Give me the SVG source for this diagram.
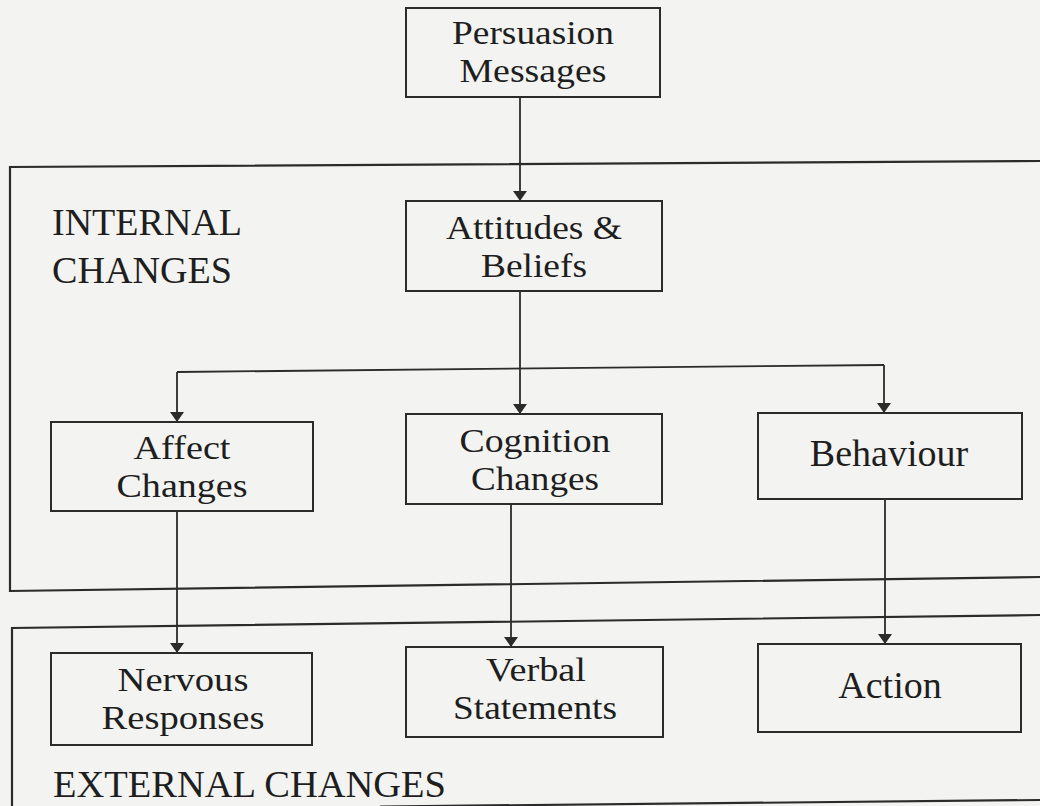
<svg xmlns="http://www.w3.org/2000/svg" width="1040" height="806" viewBox="0 0 1040 806">
  <defs>
    <marker id="arrow" viewBox="0 0 10 14" refX="10" refY="7" markerWidth="10" markerHeight="14" markerUnits="userSpaceOnUse" orient="auto">
      <path d="M0,0 L10,7 L0,14 Z" fill="#2b2b2b"/>
    </marker>
    <style>
      .box { fill: none; stroke: #2b2b2b; stroke-width: 2; }
      .frame { fill: none; stroke: #2b2b2b; stroke-width: 2.2; }
      .link { fill: none; stroke: #2b2b2b; stroke-width: 1.8; }
      .arrow { marker-end: url(#arrow); }
      text { font-family: "Liberation Serif", "Times New Roman", serif; font-size: 38px; fill: #1e1e1e; }
      .c { text-anchor: middle; }
      .two { font-size: 34px; }
    </style>
  </defs>

  <rect width="1040" height="806" fill="#f3f3f1"/>

  <!-- section frames -->
  <g id="internal-frame">
    <path class="frame" d="M1040,161 L10,167 L10,591 L1040,577"/>
    <text x="52" y="235" textLength="190" lengthAdjust="spacingAndGlyphs">INTERNAL</text>
    <text x="52" y="283" textLength="180" lengthAdjust="spacingAndGlyphs">CHANGES</text>
  </g>
  <g id="external-frame">
    <path class="frame" d="M1040,615 L12,628 L12,810"/>
    <path class="frame" d="M380,806.5 L1040,800"/>
    <text x="53" y="797" font-size="36" textLength="393" lengthAdjust="spacingAndGlyphs">EXTERNAL CHANGES</text>
  </g>

  <!-- connectors -->
  <g id="connectors">
    <path class="link arrow" d="M520,96 L520,201"/>
    <path class="link arrow" d="M520,291 L520,414"/>
    <path class="link" d="M177,372 L884,365"/>
    <path class="link arrow" d="M177,372 L177,422"/>
    <path class="link arrow" d="M884,365 L884,413"/>
    <path class="link arrow" d="M177,511 L177,653"/>
    <path class="link arrow" d="M511,504 L511,647"/>
    <path class="link arrow" d="M885,499 L885,644"/>
  </g>

  <!-- nodes -->
  <g id="persuasion-messages">
    <rect class="box" x="406" y="8" width="254" height="89"/>
    <text class="c two" x="533" y="43.5" textLength="162" lengthAdjust="spacingAndGlyphs">Persuasion</text>
    <text class="c two" x="533" y="81.5" textLength="147" lengthAdjust="spacingAndGlyphs">Messages</text>
  </g>
  <g id="attitudes-beliefs">
    <rect class="box" x="406" y="201" width="256" height="90"/>
    <text class="c two" x="534" y="238.5" textLength="176" lengthAdjust="spacingAndGlyphs">Attitudes &amp;</text>
    <text class="c two" x="534" y="276.5" textLength="106" lengthAdjust="spacingAndGlyphs">Beliefs</text>
  </g>
  <g id="affect-changes">
    <rect class="box" x="51" y="422" width="262" height="89"/>
    <text class="c two" x="182" y="458.5" textLength="97" lengthAdjust="spacingAndGlyphs">Affect</text>
    <text class="c two" x="182" y="496.5" textLength="131" lengthAdjust="spacingAndGlyphs">Changes</text>
  </g>
  <g id="cognition-changes">
    <rect class="box" x="406" y="414" width="256" height="90"/>
    <text class="c two" x="535" y="451.5" textLength="151" lengthAdjust="spacingAndGlyphs">Cognition</text>
    <text class="c two" x="535" y="489.5" textLength="128" lengthAdjust="spacingAndGlyphs">Changes</text>
  </g>
  <g id="behaviour">
    <rect class="box" x="758" y="413" width="264" height="86"/>
    <text class="c" x="889" y="466">Behaviour</text>
  </g>
  <g id="nervous-responses">
    <rect class="box" x="51" y="653" width="261" height="92"/>
    <text class="c two" x="183" y="690.5" textLength="131" lengthAdjust="spacingAndGlyphs">Nervous</text>
    <text class="c two" x="183" y="728.5" textLength="163" lengthAdjust="spacingAndGlyphs">Responses</text>
  </g>
  <g id="verbal-statements">
    <rect class="box" x="406" y="647" width="257" height="90"/>
    <text class="c two" x="536" y="681" textLength="100" lengthAdjust="spacingAndGlyphs">Verbal</text>
    <text class="c two" x="535" y="719" textLength="164" lengthAdjust="spacingAndGlyphs">Statements</text>
  </g>
  <g id="action">
    <rect class="box" x="758" y="644" width="263" height="88"/>
    <text class="c" x="890" y="698">Action</text>
  </g>
</svg>
